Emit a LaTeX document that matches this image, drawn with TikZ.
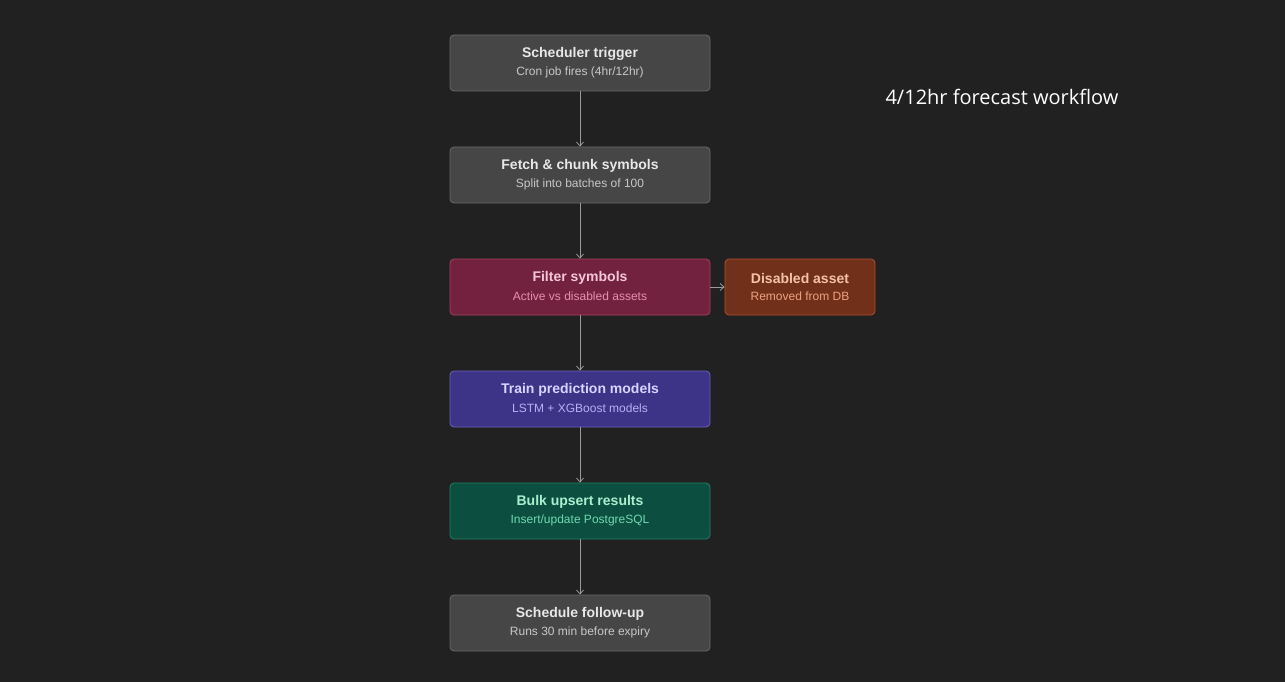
\documentclass[tikz,border=0pt]{standalone}
\usepackage{fontspec}
\setmainfont{Liberation Sans}
\newfontfamily\notefont{Open Sans}
\usetikzlibrary{positioning, arrows.meta}
\definecolor{bgcol}{HTML}{212121}
\definecolor{linecol}{HTML}{9A9A9A}
\definecolor{grayfill}{HTML}{464646}
\definecolor{grayline}{HTML}{6A6A6A}
\definecolor{graytext}{HTML}{E8E8E8}
\definecolor{graysub}{HTML}{C8C8C8}
\definecolor{redfill}{HTML}{72223F}
\definecolor{redline}{HTML}{A8405F}
\definecolor{redtext}{HTML}{F5C6D6}
\definecolor{redsub}{HTML}{E88EB0}
\definecolor{bluefill}{HTML}{3D3488}
\definecolor{blueline}{HTML}{6A62C0}
\definecolor{bluetext}{HTML}{D8D4FF}
\definecolor{bluesub}{HTML}{B8B0F5}
\definecolor{greenfill}{HTML}{0C4F40}
\definecolor{greenline}{HTML}{1F8266}
\definecolor{greentext}{HTML}{A8F0D0}
\definecolor{greensub}{HTML}{70D8B0}
\definecolor{brownfill}{HTML}{70301A}
\definecolor{brownline}{HTML}{B0512B}
\definecolor{browntext}{HTML}{F5C2A8}
\definecolor{brownsub}{HTML}{F0A080}
\tikzset{
  box/.style={rounded corners=4pt, line width=0.8pt,
    minimum width=260pt, minimum height=56pt, inner sep=0pt},
  flow/.style={draw=linecol, line width=0.8pt, -{Straight Barb[length=4pt,width=7pt]}},
}
\newcommand{\stepbox}[5]{%
  \node[box, draw=#3line, fill=#3fill, minimum width=#5] (#1) at #2 {};
  \node[text=#3text, font=\fontsize{14pt}{17pt}\selectfont\bfseries] at ([yshift=9pt]#1.center) {#4};
}
\newcommand{\stepsub}[3]{%
  \node[text=#2sub, font=\fontsize{12pt}{14pt}\selectfont] at ([yshift=-9pt]#1.center) {#3};
}
\begin{document}
\begin{tikzpicture}[x=1pt, y=-1pt]
  \fill[bgcol] (0,0) rectangle (1285,682);
  \useasboundingbox (0,0) rectangle (1285,682);
  % main column
  \stepbox{trigger}{(580,63)}{gray}{Scheduler trigger}{260pt}
  \stepsub{trigger}{gray}{Cron job fires (4hr/12hr)}
  \stepbox{fetch}{(580,175)}{gray}{Fetch \& chunk symbols}{260pt}
  \stepsub{fetch}{gray}{Split into batches of 100}
  \stepbox{filter}{(580,287)}{red}{Filter symbols}{260pt}
  \stepsub{filter}{red}{Active vs disabled assets}
  \stepbox{train}{(580,399)}{blue}{Train prediction models}{260pt}
  \stepsub{train}{blue}{LSTM + XGBoost models}
  \stepbox{upsert}{(580,511)}{green}{Bulk upsert results}{260pt}
  \stepsub{upsert}{green}{Insert/update PostgreSQL}
  \stepbox{followup}{(580,623)}{gray}{Schedule follow-up}{260pt}
  \stepsub{followup}{gray}{Runs 30 min before expiry}
  % side branch
  \stepbox{disabled}{(800,287)}{brown}{Disabled asset}{150pt}
  \stepsub{disabled}{brown}{Removed from DB}
  \draw[flow] (trigger) -- (fetch);
  \draw[flow] (fetch) -- (filter);
  \draw[flow] (filter) -- (train);
  \draw[flow] (train) -- (upsert);
  \draw[flow] (upsert) -- (followup);
  \draw[flow] (filter) -- (disabled);
  \node[text=white, font=\notefont\fontsize{20pt}{24pt}\selectfont] (caption) at (1002,97) {4/12hr forecast workflow};
\end{tikzpicture}
\end{document}
